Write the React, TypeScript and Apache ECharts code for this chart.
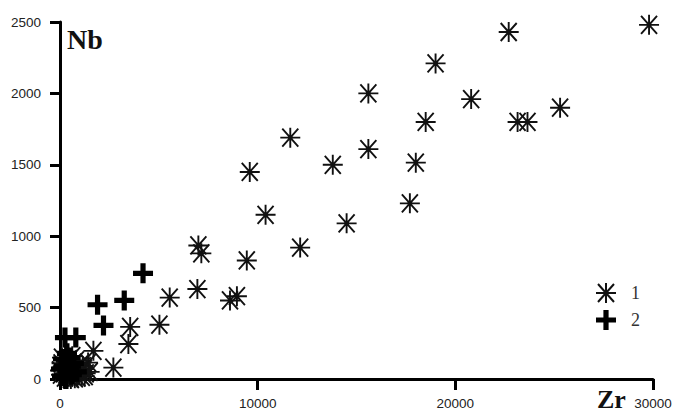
import React, { useEffect, useRef } from "react";
import * as echarts from "echarts";

// Zr (x) / Nb (y) pairs for group 1 (asterisks)
const group1Zr = [
  29800, 22700, 19000, 15600, 20800, 25300, 18500, 23150, 23650, 11650,
  15600, 18000, 13800, 9600, 17700, 10400, 14500, 7000, 7150, 12150,
  9450, 6950, 8600, 8950, 5550, 5030, 3550, 3460, 2700, 1690,
  1420, 1010,
  50, 150, 250, 300, 400, 500, 600, 700, 800, 900,
  1000, 1100, 1200, 1300, 200, 350, 650, 750, 950, 1250,
  100, 450, 1150, 550, 0, 80, 320, 880, 1500, 620,
];
const group1Nb = [
  2480, 2430, 2210, 2000, 1960, 1900, 1800, 1800, 1800, 1690,
  1610, 1515, 1500, 1450, 1230, 1150, 1090, 935, 880, 920,
  830, 630, 550, 580, 570, 380, 365, 245, 80, 197,
  115, 56,
  30, 80, 10, 120, 50, 90, 20, 60, 130, 40,
  100, 15, 70, 40, 40, 70, 110, 5, 60, 20,
  150, 140, 90, 0, 60, 110, 30, 10, 50, 160,
];

// Group 2 (crosses)
const group2Zr = [4200, 3250, 1900, 2200, 250, 800, 500, 100, 200, 400, 600, 300, 700, 150, 850, 50, 350, 550];
const group2Nb = [740, 550, 520, 375, 290, 290, 150, 20, 90, 60, 30, 0, 110, 140, 50, 70, 180, 90];

const xTicks = { min: 0, max: 30000, step: 10000 };
const yTicks = { min: 0, max: 2500, step: 500 };

const seriesNames = ["1", "2"];

const ASTERISK =
  "path://M0,-10L0,10M-10,0L10,0M-8,-9L8,9M-8,9L8,-9M1.6,0A1.6,1.6,0,1,1,-1.6,0A1.6,1.6,0,1,1,1.6,0Z";
const CROSS =
  "path://M-2.6,-10H2.6V-2.6H10V2.6H2.6V10H-2.6V2.6H-10V-2.6H-2.6Z";

const zip = (xs: number[], ys: number[]) => xs.map((x, i) => [x, ys[i]]);

export default function App() {
  const ref = useRef<HTMLDivElement>(null);

  useEffect(() => {
    if (!ref.current) return;
    const chart = echarts.init(ref.current, undefined, { renderer: "svg" });
    const axisFont = {
      fontFamily: "Liberation Sans, Arial, sans-serif",
      fontSize: 13.5,
      color: "#222",
      formatter: (v: number) => String(v),
    };
    chart.setOption({
      animation: false,
      backgroundColor: "#fff",
      grid: { left: 60, right: 27, top: 22, bottom: 38, containLabel: false },
      xAxis: {
        type: "value",
        min: xTicks.min,
        max: xTicks.max,
        interval: xTicks.step,
        splitLine: { show: false },
        axisLine: { show: true, lineStyle: { color: "#000", width: 3 } },
        axisTick: { show: true, length: 11, lineStyle: { color: "#000", width: 3 } },
        axisLabel: { ...axisFont, margin: 17 },
      },
      yAxis: {
        type: "value",
        min: yTicks.min,
        max: yTicks.max,
        interval: yTicks.step,
        splitLine: { show: false },
        axisLine: { show: true, lineStyle: { color: "#000", width: 3 } },
        axisTick: { show: true, length: 10, lineStyle: { color: "#000", width: 3 } },
        axisLabel: { ...axisFont, margin: 19 },
      },
      legend: {
        orient: "vertical",
        left: 595,
        top: 282,
        itemWidth: 20,
        itemHeight: 20,
        itemGap: 6,
        padding: 0,
        data: seriesNames,
        textStyle: {
          fontFamily: "Liberation Serif, Times New Roman, serif",
          fontSize: 18,
          color: "#333",
          padding: [0, 0, 0, 10],
        },
      },
      graphic: [
        {
          type: "text",
          left: 67,
          top: 25,
          style: {
            text: "Nb",
            font: "bold 28px 'Liberation Serif', 'Times New Roman', serif",
            fill: "#111",
          },
        },
        {
          type: "text",
          left: 597,
          top: 386,
          style: {
            text: "Zr",
            font: "bold 26px 'Liberation Serif', 'Times New Roman', serif",
            fill: "#111",
          },
        },
      ],
      series: [
        {
          name: seriesNames[0],
          type: "scatter",
          symbol: ASTERISK,
          symbolSize: 20,
          itemStyle: { color: "#111", borderColor: "#111", borderWidth: 1.9, opacity: 1 },
          data: zip(group1Zr, group1Nb),
          z: 3,
        },
        {
          name: seriesNames[1],
          type: "scatter",
          symbol: CROSS,
          symbolSize: 20,
          itemStyle: { color: "#000", opacity: 1 },
          data: zip(group2Zr, group2Nb),
          z: 4,
        },
      ],
    });
    return () => chart.dispose();
  }, []);

  return (
    <div
      ref={ref}
      style={{ width: 680, height: 417, position: "absolute", left: 0, top: 0 }}
    />
  );
}
